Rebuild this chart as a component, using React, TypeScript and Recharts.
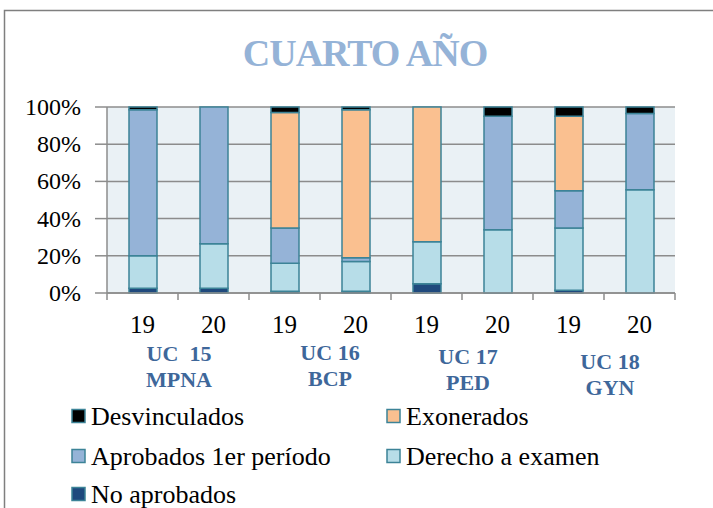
import React from "react";
import { BarChart, Bar, XAxis, YAxis, CartesianGrid } from "recharts";

// --- data (percent of students per group / year) ---
const years = ["19", "20", "19", "20", "19", "20", "19", "20"];
const groupLabels = [
  ["UC  15", "MPNA"],
  ["UC 16", "BCP"],
  ["UC 17", "PED"],
  ["UC 18", "GYN"],
];
const noAprobados = [2.5, 2.5, 1, 1, 5, 0, 1.5, 0];
const derechoExamen = [17.5, 24, 15, 16, 22.5, 34, 33.5, 55.5];
const aprobados1er = [78.5, 73.5, 19, 2, 0, 61, 20, 41];
const exonerados = [0, 0, 62, 79.5, 72.5, 0, 40, 0];
const desvinculados = [1.5, 0, 3, 1.5, 0, 5, 5, 3.5];
const yTicks = [0, 20, 40, 60, 80, 100];

const series = [
  { key: "noAprobados", name: "No aprobados", values: noAprobados, color: "#1F497D" },
  { key: "derecho", name: "Derecho a examen", values: derechoExamen, color: "#B7DDE8" },
  { key: "aprobados", name: "Aprobados 1er período", values: aprobados1er, color: "#95B3D7" },
  { key: "exonerados", name: "Exonerados", values: exonerados, color: "#FAC090" },
  { key: "desvinculados", name: "Desvinculados", values: desvinculados, color: "#000000" },
];

const legendOrder = ["desvinculados", "exonerados", "aprobados", "derecho", "noAprobados"];

const chartData = years.map((y, i) => {
  const row: Record<string, any> = { id: i, year: y };
  series.forEach((s) => (row[s.key] = s.values[i]));
  return row;
});

// --- layout ---
const W = 713;
const H = 508;
const MARGIN = { top: 107, right: 38, bottom: 185, left: 7 };
const Y_AXIS_W = 100;
const X_AXIS_H = 30;
const PLOT_W = W - MARGIN.left - Y_AXIS_W - MARGIN.right;
const HALF_BAND = PLOT_W / years.length / 2;
const GRAY = "#8C8C8C";
const STROKE = "#3C8397";
const FONT = "Liberation Serif";
const serif = { fontFamily: FONT };
const LABEL_BLUE = "#3E679A";
const groupDx = [1, 10, 6, 6];
const groupDy = [0, -1, 3, 8];

function XTick(props: any) {
  const { x, y, payload, index } = props;
  const i = payload?.index ?? index;
  const g = Math.floor(i / 2);
  const gx = x - HALF_BAND + groupDx[g];
  return (
    <g>
      <line x1={x - HALF_BAND} x2={x - HALF_BAND} y1={y} y2={y + 7} stroke={GRAY} strokeWidth={1.5} />
      {i === years.length - 1 && (
        <line x1={x + HALF_BAND} x2={x + HALF_BAND} y1={y} y2={y + 7} stroke={GRAY} strokeWidth={1.5} />
      )}
      <text x={x} y={y + 40} textAnchor="middle" style={serif} fontSize={25} fill="#000">
        {years[i]}
      </text>
      {i % 2 === 1 && (
        <text
          textAnchor="middle"
          fontSize={22}
          fontWeight="bold"
          fill={LABEL_BLUE}
          style={{ ...serif, whiteSpace: "pre" }}
        >
          <tspan x={gx} y={y + 68 + groupDy[g]}>{groupLabels[g][0]}</tspan>
          <tspan x={gx} y={y + 94 + groupDy[g]}>{groupLabels[g][1]}</tspan>
        </text>
      )}
    </g>
  );
}

function YTick(props: any) {
  const { x, y, payload } = props;
  return (
    <text x={x} y={y} dy={8} textAnchor="end" style={serif} fontSize={24} fill="#000">
      {`${payload.value}%`}
    </text>
  );
}

export default function App() {
  const legendRows = [416, 456, 494];
  const legendCols = [72, 387];
  return (
    <div
      style={{
        position: "absolute",
        left: 0,
        top: 0,
        width: W,
        height: H,
        background: "#fff",
        overflow: "hidden",
        fontFamily: FONT,
      }}
    >
      <BarChart width={W} height={H} data={chartData} margin={MARGIN} barSize={28}>
        <CartesianGrid vertical={false} stroke={GRAY} strokeWidth={1.5} fill="#EAF1F5" />
        <XAxis
          dataKey="id"
          height={X_AXIS_H}
          interval={0}
          tickLine={false}
          tickSize={0}
          tickMargin={0}
          axisLine={{ stroke: GRAY, strokeWidth: 1.5 }}
          tick={<XTick />}
        />
        <YAxis
          width={Y_AXIS_W}
          domain={[0, 100]}
          ticks={yTicks}
          interval={0}
          tickSize={12}
          tickMargin={14}
          tickLine={{ stroke: GRAY, strokeWidth: 1.5 }}
          axisLine={{ stroke: GRAY, strokeWidth: 1.5 }}
          tick={<YTick />}
        />
        {series.map((s) => (
          <Bar
            key={s.key}
            dataKey={s.key}
            name={s.name}
            stackId="a"
            fill={s.color}
            stroke={STROKE}
            strokeWidth={1.5}
            isAnimationActive={false}
          />
        ))}
      </BarChart>

      <svg
        width={W}
        height={H}
        style={{ position: "absolute", left: 0, top: 0, pointerEvents: "none" }}
      >
        <path d={`M4.5 ${H} V10.5 H${W}`} fill="none" stroke="#7F7F7F" strokeWidth={1.5} />
        <text
          x={365}
          y={66}
          textAnchor="middle"
          fontSize={38}
          fontWeight="bold"
          letterSpacing={-1}
          fill="#95B3D7"
          style={serif}
        >
          CUARTO AÑO
        </text>
        {legendOrder.map((k, i) => {
          const s = series.find((d) => d.key === k)!;
          const cy = legendRows[Math.floor(i / 2)];
          const lx = legendCols[i % 2];
          return (
            <g key={k}>
              <rect x={lx} y={cy - 6.5} width={13} height={13} fill={s.color} stroke={STROKE} strokeWidth={1.5} />
              <text x={lx + 19} y={cy + 8.6} fontSize={26} fill="#000" style={serif}>
                {s.name}
              </text>
            </g>
          );
        })}
      </svg>
    </div>
  );
}
